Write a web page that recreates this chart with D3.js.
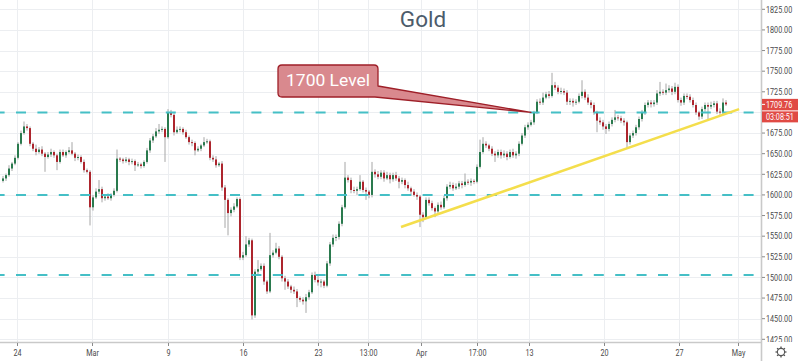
<!DOCTYPE html>
<html><head><meta charset="utf-8">
<script src="https://cdn.jsdelivr.net/npm/d3@7"></script>
<style>html,body{margin:0;padding:0;background:#fff}svg{display:block}</style>
</head><body>
<svg id="c" width="800" height="361"></svg>
<script>
// ---- data ----
const title = "Gold";
const firstOpen = 1617;
const closes = [
1620,1624,1632,1638,1645,1662,1675,1683,1681,1662,
1656,1652,1655,1650,1646,1649,1652,1648,1640,1652,
1648,1652,1654,1650,1645,1646,1640,1630,1628,1585,
1597,1604,1607,1596,1598,1596,1600,1605,1644,1643,
1641,1643,1640,1641,1636,1637,1635,1640,1654,1666,
1671,1677,1679,1680,1670,1700,1697,1676,1679,1680,
1676,1670,1664,1663,1654,1656,1660,1664,1665,1645,
1643,1636,1638,1609,1594,1578,1582,1586,1595,1524,
1527,1540,1545,1454,1507,1510,1514,1495,1483,1527,
1530,1535,1525,1499,1495,1489,1485,1483,1475,1473,
1471,1476,1482,1503,1497,1494,1495,1490,1517,1540,
1548,1549,1565,1585,1621,1618,1606,1605,1607,1616,
1606,1604,1600,1628,1625,1622,1627,1620,1624,1619,
1624,1620,1616,1618,1612,1608,1604,1600,1598,1576,
1573,1594,1590,1584,1580,1588,1585,1596,1610,1612,
1608,1610,1614,1612,1616,1615,1617,1616,1634,1652,
1662,1660,1656,1650,1648,1652,1648,1650,1646,1652,
1648,1650,1662,1672,1682,1685,1688,1700,1713,1712,
1718,1722,1720,1733,1730,1725,1726,1724,1713,1714,
1712,1713,1720,1725,1718,1712,1709,1700,1690,1688,
1683,1680,1686,1691,1694,1693,1690,1688,1664,1672,
1675,1682,1692,1700,1709,1712,1710,1712,1723,1725,
1724,1727,1729,1725,1731,1715,1712,1720,1719,1715,
1709,1700,1695,1704,1709,1707,1709,1711,1701,1700,
1712,1709.76];
const wickUp = [
3,2,4,2,3,2,3,6,3,2, 2,5,3,4,2,3,4,2,2,3, 3,2,4,10,2,3,2,3,2,2, 3,4,11,3,2,4,2,3,11,2,
2,3,2,3,2,3,2,2,3,3, 3,4,7,3,2,4,3,2,4,3, 2,3,2,3,2,3,2,6,3,2, 3,4,2,3,3,2,3,4,2,2,
4,10,3,2,3,11,3,3,2,27, 3,7,3,2,3,3,2,4,3,2, 3,4,3,3,4,6,3,2,3,3, 4,3,3,3,19,3,3,4,3,8,
2,3,2,12,3,4,3,3,4,3, 3,4,3,3,2,4,2,3,3,2, 3,3,3,3,2,3,4,3,3,4, 3,4,3,3,10,3,3,2,3,15,
8,3,2,3,3,3,3,4,3,3, 4,3,3,3,3,3,3,2,3,4, 6,3,4,15,4,3,4,3,3,3, 3,3,3,14,3,4,3,3,2,4,
3,3,3,3,9,3,3,3,2,3, 3,3,3,3,3,3,3,3,4,12, 3,8,4,3,5,3,3,3,3,3, 3,3,2,3,3,3,4,3,3,4,
5,3];
const wickDown = [
2,3,2,3,2,2,2,2,3,3, 3,4,2,3,18,2,3,3,10,2, 2,3,2,2,4,3,2,3,2,22, 4,2,3,5,3,2,3,2,2,3,
3,2,4,3,7,2,3,2,2,3, 3,2,3,3,30,2,3,4,2,3, 3,2,3,4,6,2,3,2,2,3, 3,3,2,4,34,27,4,3,2,3,
3,2,3,5,3,3,2,4,3,2, 3,2,3,4,10,3,4,3,11,3, 4,14,3,2,3,4,6,3,2,3, 3,4,3,3,2,3,4,3,5,2,
3,10,4,3,4,3,3,4,2,5, 3,3,8,3,4,3,5,2,4,15, 6,2,3,3,7,3,3,2,3,3, 3,2,3,4,2,3,4,3,2,2,
2,3,3,3,8,3,4,3,4,2, 3,4,3,2,3,3,2,3,2,3, 3,2,3,2,3,3,3,3,4,4, 5,3,2,3,3,3,4,3,14,3,
4,6,3,3,3,3,3,4,7,3, 3,3,3,3,3,3,4,3,3,3, 3,3,3,4,3,3,4,3,3,3, 3,3,4,3,3,16,3,3,3,3,
3,2];
const priceTicks = [1425,1450,1475,1500,1525,1550,1575,1600,1625,1650,1675,1700,1725,1750,1775,1800,1825];
const timeLabels = ["24","Mar","9","16","23","13:00","Apr","17:00","13","20","27","May"];
const timeTickIdx = [5,30,55.3,80.3,105.3,122,139.8,158.3,175.7,200.7,225.7,245.2];
const levels = [1700,1600,1503];
const trendLine = [{i:133,p:1561},{i:245.7,p:1704}];
const calloutText = "1700 Level";
const calloutTarget = {i:176.3,p:1700};
const lastPrice = "1709.76";
const countdown = "03:08:51";

// ---- layout ----
const svg = d3.select("#c");
const plotR = 761, axisY = 342;
const x = d3.scaleLinear().domain([0,253]).range([2,761]);
const y = d3.scaleLinear().domain([1425,1825]).range([339.3,9.3]);

svg.append("rect").attr("width",800).attr("height",361).attr("fill","#fff");
svg.append("defs").append("clipPath").attr("id","pc").append("rect")
  .attr("x",0).attr("y",0).attr("width",plotR).attr("height",axisY);
svg.select("defs").append("clipPath").attr("id","ac").append("rect")
  .attr("x",plotR).attr("y",0).attr("width",40).attr("height",axisY);

const plot = svg.append("g").attr("clip-path","url(#pc)");
// grid
plot.selectAll(".hg").data(priceTicks).join("line")
  .attr("x1",0).attr("x2",plotR).attr("y1",d=>Math.round(y(d))+0.5).attr("y2",d=>Math.round(y(d))+0.5)
  .attr("stroke","#eceef1").attr("stroke-width",1);
plot.selectAll(".vg").data(timeTickIdx).join("line")
  .attr("y1",0).attr("y2",axisY).attr("x1",d=>Math.round(x(d))+0.5).attr("x2",d=>Math.round(x(d))+0.5)
  .attr("stroke","#eceef1").attr("stroke-width",1);

// title
svg.append("text").attr("x",423).attr("y",27).attr("text-anchor","middle")
  .attr("font-family","Roboto, 'Noto Sans', sans-serif").attr("font-size",22.5)
  .attr("fill","#4d5c6b").text(title);

// candles
const candles = closes.map((c,i)=>{
  const o = i===0 ? firstOpen : closes[i-1];
  return {i, o, c, h: Math.max(o,c)+wickUp[i], l: Math.min(o,c)-wickDown[i]};
});
const cg = plot.append("g");
cg.selectAll("line").data(candles).join("line")
  .attr("x1",d=>Math.round(x(d.i))+1).attr("x2",d=>Math.round(x(d.i))+1)
  .attr("y1",d=>y(d.h)).attr("y2",d=>y(d.l))
  .attr("stroke","#a6a6a6").attr("stroke-width",1);
cg.selectAll("rect").data(candles).join("rect")
  .attr("x",d=>Math.round(x(d.i))).attr("width",2)
  .attr("y",d=>y(Math.max(d.o,d.c)))
  .attr("height",d=>Math.max(1,Math.abs(y(d.o)-y(d.c))))
  .attr("fill",d=>d.c>=d.o?"#2a7a4e":"#ad252d");

// dashed levels
plot.selectAll(".lvl").data(levels).join("line")
  .attr("x1",0).attr("x2",plotR).attr("y1",d=>y(d)).attr("y2",d=>y(d))
  .attr("stroke","#45bfc6").attr("stroke-width",2)
  .attr("stroke-dasharray","10,11.4").attr("stroke-dashoffset",5.4);

// trend line
plot.append("line")
  .attr("x1",x(trendLine[0].i)).attr("y1",y(trendLine[0].p))
  .attr("x2",x(trendLine[1].i)).attr("y2",y(trendLine[1].p))
  .attr("stroke","#f4de4c").attr("stroke-width",2.6).attr("stroke-linecap","butt");

// callout
const tx = x(calloutTarget.i), ty = y(calloutTarget.p);
const bx0=278, bx1=378, by0=65, by1=97, r=4;
const cp = `M${bx0+r},${by0} H${bx1-r} Q${bx1},${by0} ${bx1},${by0+r} V86 L${tx},${ty} L${bx1-3},${by1} H${bx0+r} Q${bx0},${by1} ${bx0},${by1-r} V${by0+r} Q${bx0},${by0} ${bx0+r},${by0} Z`;
svg.append("path").attr("d",cp).attr("fill","#d9898e").attr("stroke","#9e1f28").attr("stroke-width",1.3)
  .attr("stroke-linejoin","round");
svg.append("text").attr("x",286).attr("y",86).attr("textLength",84).attr("lengthAdjust","spacingAndGlyphs")
  .attr("font-family","Roboto, 'Noto Sans', sans-serif").attr("font-size",16.5)
  .attr("fill","#ffffff").text(calloutText);

// axes frame
svg.append("line").attr("x1",plotR+0.5).attr("x2",plotR+0.5).attr("y1",0).attr("y2",361)
  .attr("stroke","#c9c9c9").attr("stroke-width",1.6);
svg.append("line").attr("x1",0).attr("x2",plotR).attr("y1",axisY+0.5).attr("y2",axisY+0.5)
  .attr("stroke","#c9c9c9").attr("stroke-width",1.6);

// price axis (labels hidden under the last-price boxes, as in the reference)
const lp = y(+lastPrice);
const boxTop = lp-5.5, boxBot = lp+18;
const ag = svg.append("g").attr("clip-path","url(#ac)");
const pt = ag.selectAll(".pt").data(priceTicks.filter(d=>{const yy=y(d); return yy<boxTop-4 || yy>boxBot+4;})).join("g")
  .attr("transform",d=>`translate(0,${y(d)})`);
pt.append("line").attr("x1",plotR+1).attr("x2",plotR+4).attr("stroke","#8a8a8a");
pt.append("text").attr("transform",`translate(${plotR+5},3.2) scale(0.76,1)`)
  .attr("font-family","Roboto, sans-serif").attr("font-size",9.5).attr("fill","#4a4a4a")
  .text(d=>d3.format(".2f")(d));

// last price boxes
svg.append("rect").attr("x",plotR+1).attr("y",boxTop).attr("width",36).attr("height",11.5).attr("fill","#e04a44");
svg.append("rect").attr("x",plotR+1).attr("y",lp+7).attr("width",36).attr("height",11).attr("fill","#e04a44");
svg.append("line").attr("x1",plotR+1).attr("x2",plotR+4).attr("y1",lp).attr("y2",lp).attr("stroke","#fff");
svg.append("text").attr("transform",`translate(${plotR+5},${lp+3.3}) scale(0.76,1)`)
  .attr("font-family","Roboto, sans-serif").attr("font-size",9.5).attr("fill","#fff").text(lastPrice);
svg.append("text").attr("transform",`translate(${plotR+5},${lp+15.8}) scale(0.76,1)`)
  .attr("font-family","Roboto, sans-serif").attr("font-size",9.5).attr("fill","#fff").text(countdown);

// time axis
const tg = svg.selectAll(".tt").data(timeTickIdx).join("g")
  .attr("transform",d=>`translate(${Math.round(x(d))+0.5},${axisY})`);
tg.append("line").attr("y1",1).attr("y2",4).attr("stroke","#8a8a8a");
tg.append("text").attr("transform","translate(0,13.5) scale(0.76,1)").attr("text-anchor","middle")
  .attr("font-family","Roboto, sans-serif").attr("font-size",9.5).attr("fill","#4a4a4a")
  .text((d,i)=>timeLabels[i]);

// gear icon
const gx=781, gy=352;
const gear = svg.append("g").attr("transform",`translate(${gx},${gy})`);
gear.selectAll("line").data(d3.range(8)).join("line")
  .attr("x1",0).attr("y1",-3.5).attr("x2",0).attr("y2",-5.5)
  .attr("transform",d=>`rotate(${d*45})`).attr("stroke","#555").attr("stroke-width",1.3);
gear.append("circle").attr("r",3.6).attr("fill","#fff").attr("stroke","#555").attr("stroke-width",1.1);
</script>
</body></html>
